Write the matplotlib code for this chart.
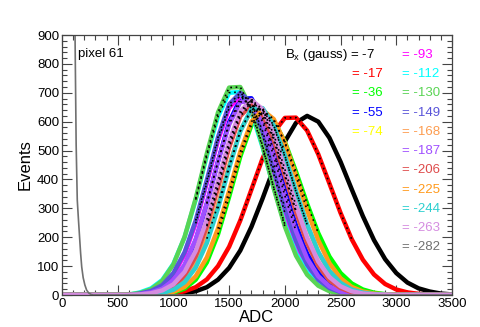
import matplotlib
matplotlib.use("Agg")
import matplotlib.pyplot as plt
from matplotlib.ticker import MultipleLocator
import numpy as np

plt.rcParams['font.family'] = ['Liberation Sans', 'DejaVu Sans']
plt.rcParams['mathtext.fontset'] = 'custom'
plt.rcParams['mathtext.rm'] = 'Liberation Sans'
plt.rcParams['mathtext.it'] = 'Liberation Sans:italic'

# ADC grid (bin positions) shared by the Bx series
adc = [0, 600, 700, 800, 900, 1000, 1100, 1200, 1300, 1400, 1500, 1600, 1700, 1800, 1900,
       2000, 2100, 2200, 2300, 2400, 2500, 2600, 2700, 2800, 2900, 3000, 3100, 3200, 3300, 3400, 3500]

bx_labels = ["-7", "-17", "-36", "-55", "-74", "-93", "-112", "-130", "-149", "-168",
             "-187", "-206", "-225", "-244", "-263", "-282"]

counts_m7 = [0, 0, 0, 0, 1, 2, 6, 13, 27, 53, 94, 154, 236, 334, 438, 531, 596, 620, 600, 544, 461, 366, 273, 190, 124, 76, 43, 23, 12, 5, 2]
counts_m17 = [0, 0, 0, 1, 2, 5, 13, 27, 54, 100, 167, 258, 365, 473, 562, 613, 614, 569, 487, 386, 284, 193, 122, 71, 38, 19, 9, 4, 1, 1, 0]
counts_m36 = [0, 0, 0, 1, 2, 8, 22, 53, 113, 210, 340, 479, 588, 630, 604, 530, 427, 316, 214, 133, 76, 40, 19, 8, 3, 1, 0, 0, 0, 0, 0]
counts_m55 = [0, 0, 2, 7, 19, 47, 100, 190, 316, 463, 598, 679, 681, 613, 498, 364, 241, 143, 77, 37, 17, 6, 2, 0, 0, 0, 0, 0, 0, 0, 0]
counts_m74 = [0, 0, 1, 4, 11, 29, 68, 136, 241, 377, 519, 628, 670, 636, 544, 419, 291, 182, 103, 52, 24, 10, 4, 1, 0, 0, 0, 0, 0, 0, 0]
counts_m93 = [0, 0, 4, 12, 30, 70, 140, 248, 388, 535, 647, 690, 653, 553, 419, 284, 172, 93, 45, 20, 8, 3, 1, 0, 0, 0, 0, 0, 0, 0, 0]
counts_m112 = [0, 1, 9, 23, 52, 108, 200, 330, 482, 618, 700, 703, 632, 512, 372, 244, 144, 78, 38, 17, 7, 3, 1, 0, 0, 0, 0, 0, 0, 0, 0]
counts_m130 = [0, 2, 7, 20, 49, 106, 201, 334, 490, 632, 718, 720, 644, 516, 369, 237, 136, 70, 32, 13, 5, 2, 0, 0, 0, 0, 0, 0, 0, 0, 0]
counts_m149 = [0, 0, 5, 14, 34, 76, 148, 258, 398, 546, 660, 700, 664, 567, 436, 302, 188, 105, 53, 24, 10, 4, 1, 0, 0, 0, 0, 0, 0, 0, 0]
counts_m168 = [0, 0, 1, 3, 9, 23, 53, 107, 195, 313, 448, 568, 640, 642, 582, 479, 358, 242, 148, 83, 42, 19, 8, 3, 1, 0, 0, 0, 0, 0, 0]
counts_m187 = [0, 0, 3, 9, 22, 51, 105, 193, 318, 462, 590, 668, 670, 600, 481, 344, 221, 126, 65, 30, 12, 4, 1, 0, 0, 0, 0, 0, 0, 0, 0]
counts_m206 = [0, 0, 1, 4, 11, 29, 67, 134, 238, 372, 511, 619, 660, 626, 536, 413, 287, 179, 101, 51, 24, 10, 4, 1, 0, 0, 0, 0, 0, 0, 0]
counts_m225 = [0, 0, 0, 1, 4, 11, 28, 65, 130, 230, 360, 496, 600, 640, 609, 527, 413, 293, 189, 110, 58, 28, 12, 5, 2, 1, 0, 0, 0, 0, 0]
counts_m244 = [0, 0, 1, 2, 7, 18, 44, 95, 180, 300, 440, 567, 645, 647, 587, 483, 360, 244, 149, 83, 42, 19, 8, 3, 1, 0, 0, 0, 0, 0, 0]
counts_m263 = [0, 0, 2, 6, 16, 37, 80, 153, 261, 395, 532, 636, 675, 643, 556, 435, 309, 199, 116, 62, 30, 13, 5, 2, 1, 0, 0, 0, 0, 0, 0]

# -282 run: pedestal near ADC 0 (own grid)
adc_m282 = [0, 50, 100, 117, 127, 137, 147, 157, 167, 177, 190, 205, 221, 240, 260, 280, 3500]
counts_m282 = [9000, 6000, 2000, 900, 520, 329, 265, 205, 145, 97, 60, 35, 17, 7, 2, 0, 0]

colors = ["#000000", "#ff0000", "#00ff00", "#0000ff", "#ffff00", "#ff00ff", "#00ffff", "#59d454",
          "#5954d9", "#fd9c4f", "#a050ff", "#de4b4b", "#ff9a1c", "#2ccfcf", "#d58ce0", "#707070"]

series = [counts_m7, counts_m17, counts_m36, counts_m55, counts_m74, counts_m93, counts_m112,
          counts_m130, counts_m149, counts_m168, counts_m187, counts_m206, counts_m225,
          counts_m244, counts_m263]

fig = plt.figure(figsize=(4.8, 3.27), dpi=100)
ax = fig.add_axes([62/480, 32/327, 390/480, 260/327])

x = np.array(adc)
for vals, c in zip(series, colors[:15]):
    ax.plot(x, vals, color=c, lw=3.2, solid_joinstyle='round')
ax.plot(adc_m282, counts_m282, color=colors[15], lw=1.2)

# Gaussian-fit overlays (dotted black) over the central region of each peak
for vals in series:
    v = np.array(vals, dtype=float)
    m = v >= 0.3 * v.max()
    ax.plot(x[m], v[m], color='black', lw=1.2, linestyle=(0, (1.0, 2.2)))

ax.set_xlim(0, 3500)
ax.set_ylim(0, 900)
ax.xaxis.set_major_locator(MultipleLocator(500))
ax.xaxis.set_minor_locator(MultipleLocator(100))
ax.yaxis.set_major_locator(MultipleLocator(100))
ax.yaxis.set_minor_locator(MultipleLocator(20))
ax.tick_params(which='both', direction='in', top=True, right=True, labelsize=9.5,
               color='#444444', pad=2)
ax.tick_params(which='major', length=7, width=0.8)
ax.tick_params(which='minor', length=3.5, width=0.8)
for s in ax.spines.values():
    s.set_color('#444444')
    s.set_linewidth(0.9)

ax.set_xlabel("ADC", fontsize=12, labelpad=0)
ax.set_ylabel("Events", fontsize=12, labelpad=3)

fig.text(78/480, 1 - 54/327, "pixel 61", fontsize=9.5, va='center', ha='left')
fig.text(285/480, 1 - 55/327, r"B$_{\mathrm{x}}$ (gauss) = -7", fontsize=9.5, va='center', ha='left',
         color=colors[0])
col1_y = [74, 93, 113, 132]
for i, yy in enumerate(col1_y):
    fig.text(352/480, 1 - yy/327, "= " + bx_labels[i + 1], fontsize=9.5, va='center', ha='left',
             color=colors[i + 1])
col2_y = [55, 74, 93, 113, 132, 151, 170, 190, 209, 228, 247]
for i, yy in enumerate(col2_y):
    fig.text(402/480, 1 - yy/327, "= " + bx_labels[i + 5], fontsize=9.5, va='center', ha='left',
             color=colors[i + 5])

fig.savefig("out.png", dpi=100)
